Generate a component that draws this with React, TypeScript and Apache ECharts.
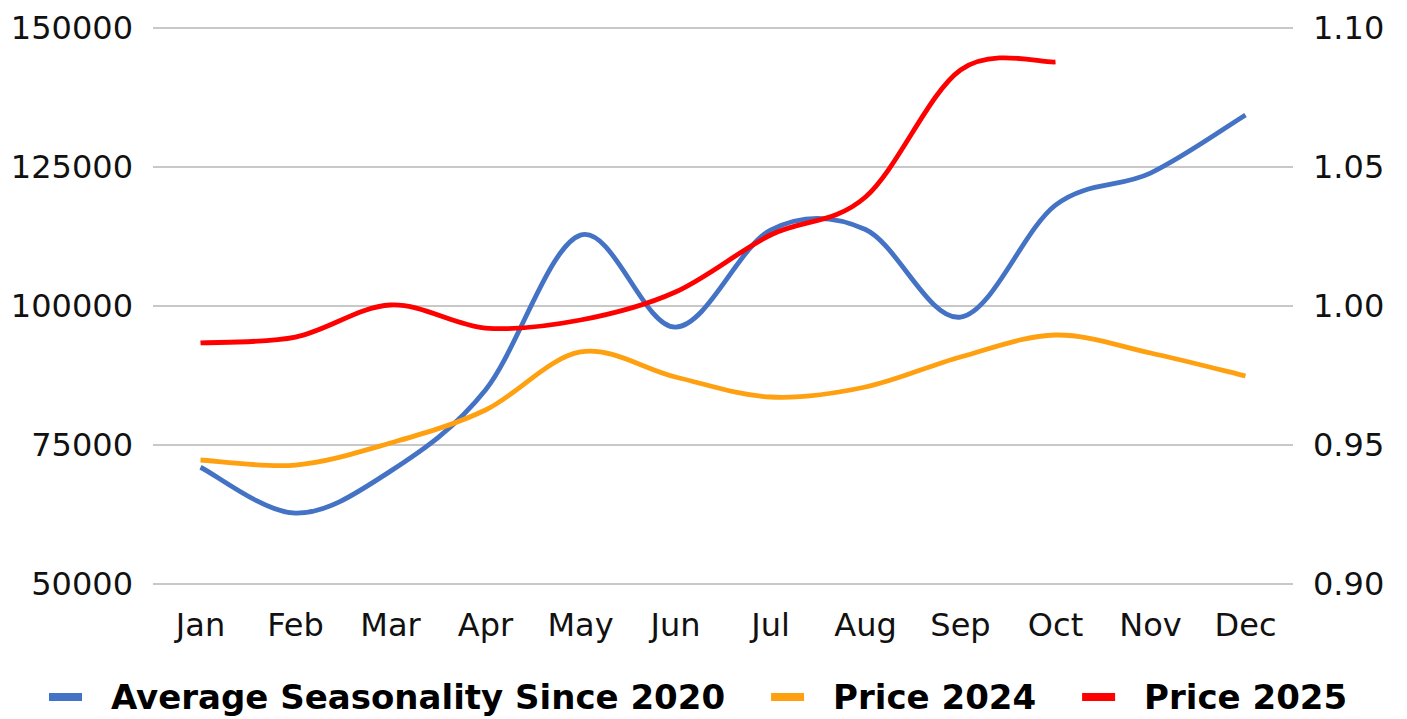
import React, { useEffect, useRef } from "react";
import * as echarts from "echarts";

const months = ["Jan", "Feb", "Mar", "Apr", "May", "Jun", "Jul", "Aug", "Sep", "Oct", "Nov", "Dec"];
const seasonality = [0.942, 0.9255, 0.9406, 0.9698, 1.0255, 0.9924, 1.0273, 1.0275, 0.996, 1.0363, 1.0478, 1.0687];
const price2024 = [72300, 71400, 75360, 81300, 91730, 87230, 83630, 85430, 90830, 94780, 91550, 87410];
const price2025 = [93350, 94420, 100180, 96040, 97480, 102520, 112770, 119600, 142450, 143890];
const leftTicks = { min: 50000, max: 150000, interval: 25000 };
const rightTicks = { min: 0.9, max: 1.1, interval: 0.05 };

const FONT = "DejaVu Sans";
const LINE_W = 4.8;

// Smooth curve through the data points (Catmull-Rom style), positioned via api.coord
function makeRender(vals: number[], color: string) {
  return (params: any, api: any) => {
    if (params.dataIndex !== 0) return null;
    const pts = vals.map((v, i) => api.coord([i, v]));
    let d = `M${pts[0][0]},${pts[0][1]}`;
    for (let i = 0; i < pts.length - 1; i++) {
      const p0 = pts[i - 1] || pts[i];
      const p1 = pts[i];
      const p2 = pts[i + 1];
      const p3 = pts[i + 2] || pts[i + 1];
      const c1x = p1[0] + (p2[0] - p0[0]) / 6;
      const c1y = p1[1] + (p2[1] - p0[1]) / 6;
      const c2x = p2[0] - (p3[0] - p1[0]) / 6;
      const c2y = p2[1] - (p3[1] - p1[1]) / 6;
      d += ` C${c1x},${c1y} ${c2x},${c2y} ${p2[0]},${p2[1]}`;
    }
    return {
      type: "path",
      shape: { pathData: d },
      style: { fill: "none", stroke: color, lineWidth: LINE_W, lineJoin: "round", lineCap: "butt" },
    };
  };
}

function curveSeries(name: string, vals: number[], color: string, yAxisIndex: number) {
  return {
    name,
    type: "custom",
    yAxisIndex,
    data: vals.map((v, i) => [i, v]),
    encode: { x: 0, y: 1 },
    itemStyle: { color },
    renderItem: makeRender(vals, color),
  };
}

export default function App() {
  const ref = useRef<HTMLDivElement>(null);
  useEffect(() => {
    if (!ref.current) return;
    const chart = echarts.init(ref.current, undefined, { renderer: "svg" });
    chart.setOption({
      animation: false,
      backgroundColor: "#ffffff",
      grid: { left: 153, right: 114, top: 28, bottom: 135, containLabel: false },
      legend: {
        bottom: 0,
        left: 44,
        itemWidth: 33,
        itemHeight: 8,
        itemGap: 46,
        icon: "rect",
        textStyle: {
          fontFamily: FONT,
          fontWeight: "bold",
          fontSize: 34,
          color: "#000",
          padding: [0, 0, 0, 24],
        },
        data: ["Average Seasonality Since 2020", "Price 2024", "Price 2025"],
      },
      xAxis: {
        type: "category",
        data: months,
        boundaryGap: true,
        axisLine: { show: false },
        axisTick: { show: false },
        axisLabel: { fontFamily: FONT, fontSize: 32, color: "#111", margin: 25 },
      },
      yAxis: [
        {
          type: "value",
          min: leftTicks.min,
          max: leftTicks.max,
          interval: leftTicks.interval,
          axisLine: { show: false },
          axisTick: { show: false },
          axisLabel: {
            fontFamily: FONT,
            fontSize: 32,
            color: "#111",
            margin: 20,
            formatter: (v: number) => String(v),
          },
          splitLine: { lineStyle: { color: "#c8c8c8", width: 2 } },
        },
        {
          type: "value",
          min: rightTicks.min,
          max: rightTicks.max,
          interval: rightTicks.interval,
          axisLine: { show: false },
          axisTick: { show: false },
          axisLabel: {
            fontFamily: FONT,
            fontSize: 32,
            color: "#111",
            margin: 20,
            formatter: (v: number) => v.toFixed(2),
          },
          splitLine: { show: false },
        },
      ],
      series: [
        curveSeries("Average Seasonality Since 2020", seasonality, "#4472C4", 1),
        curveSeries("Price 2024", price2024, "#FFA010", 0),
        curveSeries("Price 2025", price2025, "#FF0000", 0),
      ],
    });
    return () => chart.dispose();
  }, []);
  return (
    <div
      ref={ref}
      style={{ position: "fixed", left: 0, top: 0, width: 1407, height: 719 }}
    />
  );
}
